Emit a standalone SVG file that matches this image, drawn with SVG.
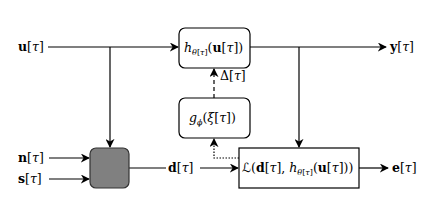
<svg xmlns="http://www.w3.org/2000/svg" width="438" height="216" viewBox="0 0 438 216">
<style>
text{font-family:"DejaVu Serif","Liberation Serif",serif;font-size:12.5px;fill:#000}
.b{font-weight:bold}
.i{font-style:italic}
.cal{font-family:"DejaVu Sans","Noto Sans",sans-serif;font-style:normal}
.box{fill:#fff;stroke:#000;stroke-width:1.2}
.ln{fill:none;stroke:#000;stroke-width:1.2}
</style>
<defs>
<marker id="a" viewBox="0 0 10 10" refX="9" refY="5" markerWidth="9" markerHeight="9" orient="auto" markerUnits="userSpaceOnUse"><path d="M0,0 L10,5 L0,10 L3,5 z" fill="#000"/></marker>
</defs>
<rect width="438" height="216" fill="#fff"/>
<g id="connectors">
<path class="ln" d="M48,47 H178" marker-end="url(#a)"/>
<path class="ln" d="M110,47 V147" marker-end="url(#a)"/>
<path class="ln" d="M250,47 H386" marker-end="url(#a)"/>
<path class="ln" d="M299,47 V147" marker-end="url(#a)"/>
<path class="ln" d="M49,158 H89" marker-end="url(#a)"/>
<path class="ln" d="M49,179 H89" marker-end="url(#a)"/>
<path class="ln" d="M129,168 H166"/>
<path class="ln" d="M200,168 H238" marker-end="url(#a)"/>
<path class="ln" d="M359,168 H388" marker-end="url(#a)"/>
<path class="ln" d="M214,98 V69" stroke-dasharray="4,3" stroke-width="1.8" marker-end="url(#a)"/>
<path class="ln" d="M239,158 H214 V139" stroke-dasharray="1.5,1.5" stroke-width="1.8" marker-end="url(#a)"/>
</g>
<g id="u"><text x="18" y="51"><tspan class="b">u</tspan>[<tspan class="i">τ</tspan>]</text></g>
<g id="n"><text x="18" y="162"><tspan class="b">n</tspan>[<tspan class="i">τ</tspan>]</text></g>
<g id="s"><text x="18" y="183"><tspan class="b">s</tspan>[<tspan class="i">τ</tspan>]</text></g>
<g id="h"><rect class="box" x="179" y="28" width="71" height="40" rx="6"/>
<text x="184" y="52"><tspan class="i">h</tspan><tspan class="i" font-size="8" dy="3">θ</tspan><tspan font-size="8">[</tspan><tspan class="i" font-size="8">τ</tspan><tspan font-size="8">]</tspan><tspan dy="-3">(</tspan><tspan class="b">u</tspan>[<tspan class="i">τ</tspan>])</text></g>
<g id="y"><text x="390" y="51"><tspan class="b">y</tspan>[<tspan class="i">τ</tspan>]</text></g>
<g id="delta"><text x="220" y="80">Δ[<tspan class="i">τ</tspan>]</text></g>
<g id="g"><rect class="box" x="179" y="98" width="71" height="40" rx="6"/>
<text x="189" y="122"><tspan class="i">g</tspan><tspan class="i" font-size="8" dy="3">ϕ</tspan><tspan dy="-3">(</tspan><tspan class="i">ξ</tspan>[<tspan class="i">τ</tspan>])</text></g>
<g id="mix"><rect x="90" y="148" width="39" height="40" rx="6" fill="#808080" stroke="#333" stroke-width="1.2"/></g>
<g id="d"><text x="168" y="172"><tspan class="b">d</tspan>[<tspan class="i">τ</tspan>]</text></g>
<g id="loss"><rect class="box" x="239" y="148" width="120" height="40"/>
<text x="242" y="172"><tspan class="cal">ℒ</tspan>(<tspan class="b">d</tspan>[<tspan class="i">τ</tspan>], <tspan class="i">h</tspan><tspan class="i" font-size="8" dy="3">θ</tspan><tspan font-size="8">[</tspan><tspan class="i" font-size="8">τ</tspan><tspan font-size="8">]</tspan><tspan dy="-3">(</tspan><tspan class="b">u</tspan>[<tspan class="i">τ</tspan>]))</text></g>
<g id="e"><text x="392" y="172"><tspan class="b">e</tspan>[<tspan class="i">τ</tspan>]</text></g>
</svg>
